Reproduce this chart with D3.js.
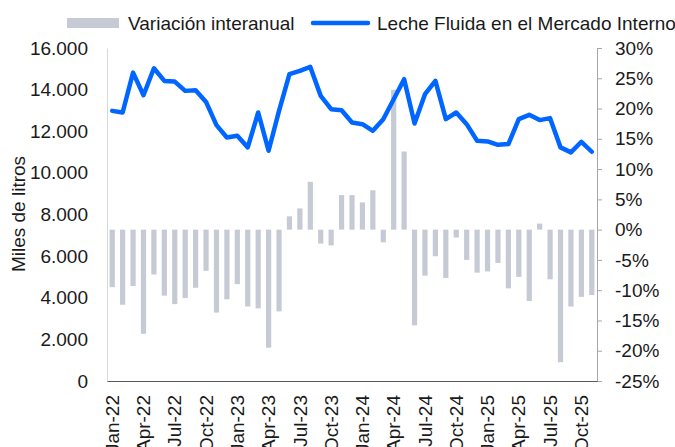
<!DOCTYPE html>
<html>
<head>
<meta charset="utf-8">
<script src="https://cdn.jsdelivr.net/npm/d3@7"></script>
<style>
body { margin: 0; background: #fff; }
svg text { font-family: "Liberation Sans", Arial, sans-serif; fill: #1a1a1a; }
</style>
</head>
<body>
<div id="graph"></div>
<script>
// months, Jan-22 .. Nov-25
var months = [
	"Jan-22","Feb-22","Mar-22","Apr-22","May-22","Jun-22","Jul-22","Aug-22","Sep-22","Oct-22","Nov-22","Dec-22",
	"Jan-23","Feb-23","Mar-23","Apr-23","May-23","Jun-23","Jul-23","Aug-23","Sep-23","Oct-23","Nov-23","Dec-23",
	"Jan-24","Feb-24","Mar-24","Apr-24","May-24","Jun-24","Jul-24","Aug-24","Sep-24","Oct-24","Nov-24","Dec-24",
	"Jan-25","Feb-25","Mar-25","Apr-25","May-25","Jun-25","Jul-25","Aug-25","Sep-25","Oct-25","Nov-25"
]
// Leche Fluida en el Mercado Interno (miles de litros)
var leche = [
	12980, 12900, 14815, 13730, 15025, 14420, 14385, 13940, 13970, 13410, 12295, 11700,
	11780, 11225, 12900, 11065, 12980, 14740, 14900, 15090, 13700, 13060, 13010, 12420,
	12340, 12020, 12580, 13540, 14500, 12370, 13780, 14420, 12580, 12900, 12340, 11545,
	11510, 11350, 11385, 12580, 12790, 12535, 12630, 11225, 10985, 11495, 11015
]
// Variación interanual (%)
var variacion = [
	-9.5, -12.4, -9.3, -17.2, -7.4, -10.9, -12.3, -11.3, -9.6, -6.8, -13.7, -11.5,
	-9.0, -12.7, -13.0, -19.5, -13.5, 2.2, 3.5, 7.9, -2.3, -2.6, 5.7, 5.7,
	4.5, 6.5, -2.1, 23.1, 12.9, -15.8, -7.6, -4.4, -8.0, -1.3, -5.0, -7.1,
	-6.9, -5.5, -9.7, -7.8, -11.8, 1.0, -8.2, -21.9, -12.7, -11.1, -10.8
]
var leftTicks = [0, 2000, 4000, 6000, 8000, 10000, 12000, 14000, 16000]
var rightTicks = [-25, -20, -15, -10, -5, 0, 5, 10, 15, 20, 25, 30]
var shownMonths = months.filter(function(m, i){ return i % 3 === 0 })

var width = 675, height = 447
var margin = {top: 48, left: 107, bottom: 66, right: 78}
var barColor = "#c5cad5"
var lineColor = "#0066ff"

var svg = d3.select("#graph").append("svg")
	.attr("width", width).attr("height", height)

var x = d3.scaleBand()
	.domain(months)
	.range([margin.left, width - margin.right])
	.paddingInner(0.5)
	.paddingOuter(0.25)
var yLeft = d3.scaleLinear().domain([0, 16000]).range([height - margin.bottom, margin.top])
var yRight = d3.scaleLinear().domain([-25, 30]).range([height - margin.bottom, margin.top])

var fmtThousands = d3.formatLocale({decimal: ",", thousands: ".", grouping: [3], currency: ["$", ""]}).format(",.0f")

// bars
svg.append("g").selectAll("rect")
	.data(variacion)
	.enter().append("rect")
	.attr("x", function(d, i){ return x(months[i]) })
	.attr("width", x.bandwidth())
	.attr("y", function(d){ return yRight(Math.max(0, d)) })
	.attr("height", function(d){ return Math.abs(yRight(d) - yRight(0)) })
	.attr("fill", barColor)

// left axis
var gl = svg.append("g")
	.attr("transform", "translate(" + margin.left + ",0)")
	.call(d3.axisLeft(yLeft).tickValues(leftTicks).tickFormat(fmtThousands).tickSize(0).tickPadding(19))
gl.select(".domain").attr("stroke", "#d9d9d9")
gl.selectAll("text").attr("font-size", 19).attr("font-family", null)

// right axis
var gr = svg.append("g")
	.attr("transform", "translate(" + (width - margin.right) + ",0)")
	.call(d3.axisRight(yRight).tickValues(rightTicks).tickFormat(function(d){ return d + "%" }).tickSize(5).tickSizeOuter(0).tickPadding(13))
gr.select(".domain").attr("stroke", "#a6a6a6")
gr.selectAll("line").attr("stroke", "#a6a6a6")
gr.selectAll("text").attr("font-size", 19).attr("font-family", null)

// bottom axis
var gb = svg.append("g")
	.attr("transform", "translate(0," + (height - margin.bottom) + ")")
	.call(d3.axisBottom(x).tickValues(shownMonths).tickSize(0).tickSizeOuter(0))
gb.select(".domain").attr("stroke", "#595959")
gb.selectAll("text")
	.attr("font-size", 19)
	.attr("font-family", null)
	.attr("text-anchor", "end")
	.attr("transform", "translate(0,14) rotate(-90)")
	.attr("x", 0).attr("y", 0).attr("dy", "0.35em")

// line
var line = d3.line()
	.x(function(d, i){ return x(months[i]) + x.bandwidth() / 2 })
	.y(function(d){ return yLeft(d) })
svg.append("path")
	.datum(leche)
	.attr("d", line)
	.attr("fill", "none")
	.attr("stroke", lineColor)
	.attr("stroke-width", 4.5)
	.attr("stroke-linejoin", "round")
	.attr("stroke-linecap", "round")

// y title
svg.append("text")
	.attr("transform", "translate(25,214) rotate(-90)")
	.attr("text-anchor", "middle")
	.attr("font-size", 19)
	.text("Miles de litros")

// legend
var legend = svg.append("g")
legend.append("rect")
	.attr("x", 67).attr("y", 18).attr("width", 52).attr("height", 10)
	.attr("fill", barColor)
legend.append("text")
	.attr("x", 128).attr("y", 30)
	.attr("font-size", 19)
	.text("Variación interanual")
legend.append("line")
	.attr("x1", 313).attr("x2", 368).attr("y1", 23).attr("y2", 23)
	.attr("stroke", lineColor).attr("stroke-width", 4.5).attr("stroke-linecap", "round")
legend.append("text")
	.attr("x", 377).attr("y", 30)
	.attr("font-size", 19)
	.text("Leche Fluida en el Mercado Interno")
</script>
</body>
</html>
